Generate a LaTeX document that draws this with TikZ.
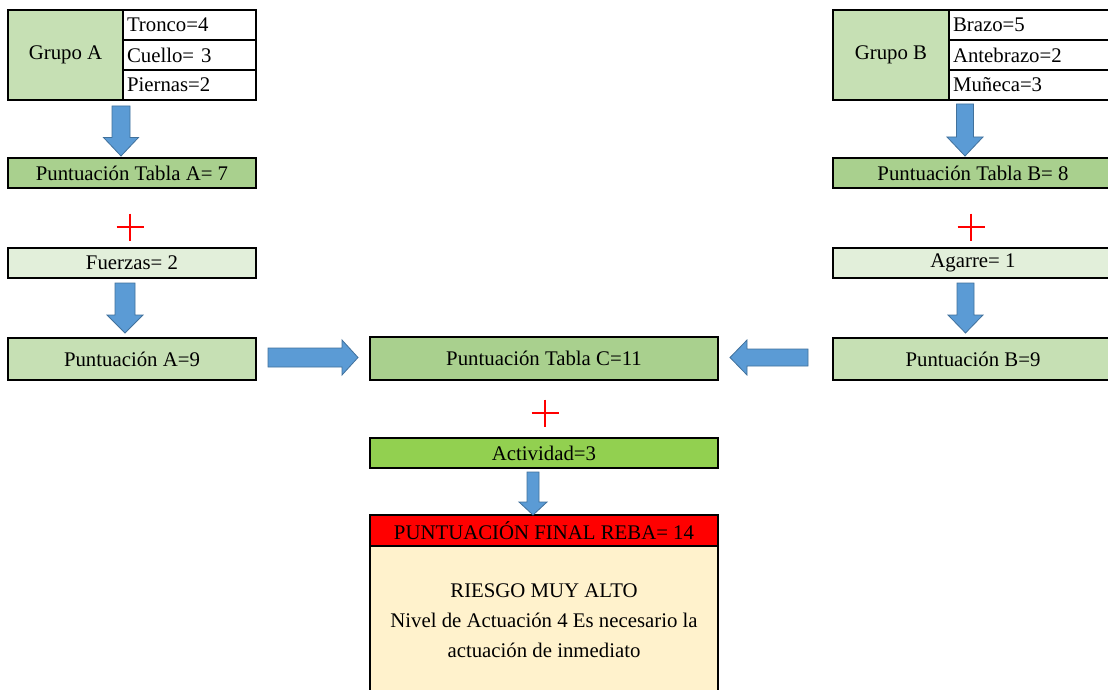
\documentclass[tikz,border=0pt]{standalone}
\usepackage{fontspec}
\setmainfont{Liberation Serif}
\newfontfamily\tnr{Liberation Serif}
\definecolor{grpgreen}{HTML}{C6E0B4}
\definecolor{tabgreen}{HTML}{A9D08E}
\definecolor{lightgreen}{HTML}{E2EFDA}
\definecolor{actgreen}{HTML}{92D050}
\definecolor{finred}{HTML}{FF0000}
\definecolor{beige}{HTML}{FFF2CC}
\definecolor{arrowblue}{HTML}{5B9BD5}
\definecolor{arrowedge}{HTML}{41719C}
% block arrow pointing down: centre x, shaft half width, head half width, top, head start, tip
\newcommand\blockdown[6]{%
  \filldraw[blockarrow] ({#1-#2},#4) -- ({#1+#2},#4) -- ({#1+#2},#5) -- ({#1+#3},#5)
    -- (#1,#6) -- ({#1-#3},#5) -- ({#1-#2},#5) -- cycle;}
% plus sign centred at (x,y)
\newcommand\plussign[2]{%
  \draw[plusmark] ({#1-13.5},#2) -- ({#1+13.5},#2) ({#1},{#2-13.5}) -- ({#1},{#2+13.5});}
\begin{document}
\begin{tikzpicture}[x=1pt,y=-1pt,
  txt/.style={font=\tnr\fontsize{20.8}{30}\selectfont},
  box/.style={txt, draw=black, line width=2pt, inner sep=0pt, align=center},
  cell/.style={txt, draw=black, line width=1.6pt, fill=white, minimum height=30pt,
    inner xsep=4pt, inner ysep=0pt, align=left},
  blockarrow/.style={fill=arrowblue, draw=arrowedge, line width=0.8pt},
  plusmark/.style={draw=finred, line width=2.8pt}]
\useasboundingbox (0,0) rectangle (1108,690);
\clip (0,0) rectangle (1108,690);
\fill[white] (0,0) rectangle (1108,690);

% ---- Grupo A ----
\node[box, fill=grpgreen, minimum width=115pt, minimum height=90pt] (gA) at (65.5,55) {Grupo A};
\node[cell, text width=125pt] (a1) at (189.5,25) {Tronco=4};
\node[cell, text width=125pt] (a2) at (189.5,55) {Cuello= 3};
\node[cell, text width=125pt] (a3) at (189.5,85) {Piernas=2};
\node[box, fill=tabgreen, minimum width=248pt, minimum height=30pt] (tA) at (132,173) {Puntuación Tabla A= 7};
\node[box, fill=lightgreen, minimum width=248pt, minimum height=30pt] (fA) at (132,263) {Fuerzas= 2};
\node[box, fill=grpgreen, minimum width=248pt, minimum height=42pt] (pA) at (132,359) {Puntuación A=9};

% ---- Grupo B ----
\node[box, fill=grpgreen, minimum width=116pt, minimum height=90pt] (gB) at (891,55) {Grupo B};
\node[cell, text width=160pt] (b1) at (1033,25) {Brazo=5};
\node[cell, text width=160pt] (b2) at (1033,55) {Antebrazo=2};
\node[cell, text width=160pt] (b3) at (1033,85) {Muñeca=3};
\node[box, fill=tabgreen, minimum width=280pt, minimum height=30pt] (tB) at (973,173) {Puntuación Tabla B= 8};
\node[box, fill=lightgreen, minimum width=280pt, minimum height=30pt] (fB) at (973,263) {Agarre= 1};
\node[box, fill=grpgreen, minimum width=280pt, minimum height=42pt] (pB) at (973,359) {Puntuación B=9};

% ---- Centre column ----
\node[box, fill=tabgreen, minimum width=348pt, minimum height=43pt] (tC) at (544,358.5) {Puntuación Tabla C=11};
\node[box, fill=actgreen, minimum width=348pt, minimum height=30pt] (act) at (544,453) {Actividad=3};
\node[box, fill=beige, minimum width=348pt, minimum height=149pt] (res) at (544,620.5)
  {RIESGO MUY ALTO\\Nivel de Actuación 4 Es necesario la\\actuación de inmediato};
\node[box, fill=finred, minimum width=348pt, minimum height=31pt] (fin) at (544,530.5) {PUNTUACIÓN FINAL REBA= 14};

% ---- Plus signs ----
\plussign{130}{227}
\plussign{971}{227}
\plussign{545}{413}

% ---- Block arrows ----
\blockdown{121}{9}{17.5}{106}{137.5}{156}
\blockdown{125}{10}{18}{283}{315}{333}
\blockdown{965}{8.5}{18}{104}{137}{156}
\blockdown{965.5}{8.5}{17.5}{283}{315}{333}
\blockdown{533}{6}{14}{472}{502}{515}
\filldraw[blockarrow] (268,348) -- (342,348) -- (342,340) -- (358,357.5) -- (342,375)
  -- (342,367) -- (268,367) -- cycle;
\filldraw[blockarrow] (808,349) -- (747,349) -- (747,340) -- (730,357.5) -- (747,375)
  -- (747,366) -- (808,366) -- cycle;
\end{tikzpicture}
\end{document}
